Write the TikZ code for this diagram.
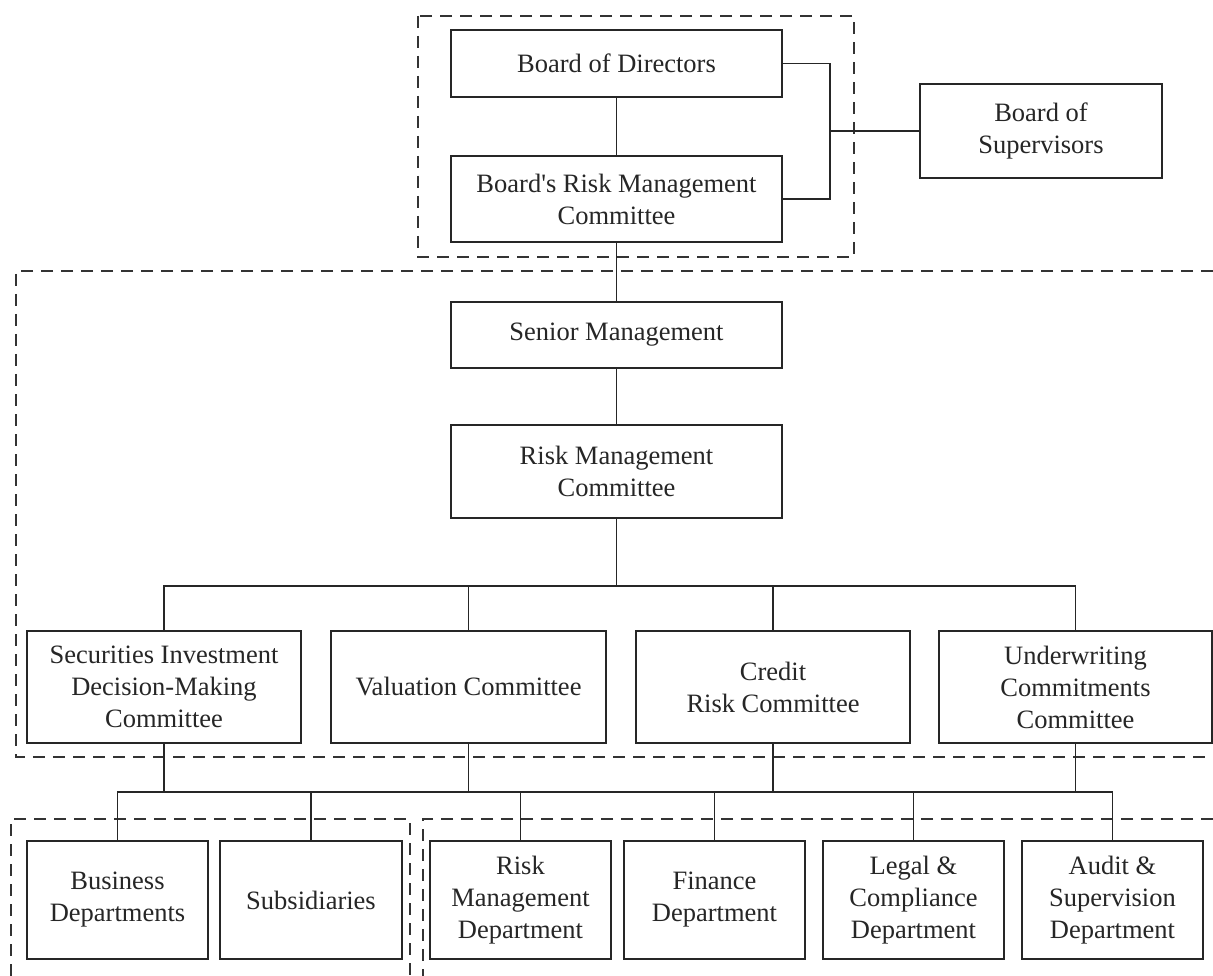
\documentclass[tikz,border=0pt]{standalone}
\usepackage{fontspec}
\setmainfont{Liberation Serif}[Ligatures=TeXOff]
\begin{document}
\begin{tikzpicture}[x=1pt,y=-1pt,
  ln/.style={line width=1.9pt,draw=black!85},
  box/.style={ln,rectangle,inner sep=0pt,align=center,
    font=\fontsize{26.5}{32}\selectfont,text=black!85},
  dbox/.style={line width=1.8pt,draw=black!80,dash pattern=on 12pt off 8pt}]
\path[fill=white,use as bounding box] (0,0) rectangle (1213,976);
% dashed groups
\draw[dbox] (418,16) rectangle (854,257);
\draw[dbox] (1213,271) -- (16,271) -- (16,757) -- (1213,757);
\draw[dbox] (11,976) -- (11,819) -- (410,819) -- (410,976);
\draw[dbox] (1213,819) -- (423,819) -- (423,976);
% nodes
\node[box,minimum width=331pt,minimum height=67pt] (bod) at (616.5,63.5) {Board of Directors};
\node[box,minimum width=331pt,minimum height=86pt] (brmc) at (616.5,199) {Board's Risk Management\\Committee};
\node[box,minimum width=242pt,minimum height=94pt] (bos) at (1041,131) {Board of\\Supervisors};
\node[box,minimum width=331pt,minimum height=66pt] (sm) at (616.5,335) {Senior Management};
\node[box,minimum width=331pt,minimum height=93pt] (rmc) at (616.5,471.5) {Risk Management\\Committee};
\node[box,minimum width=274pt,minimum height=112pt] (sidmc) at (164,687) {Securities Investment\\Decision-Making\\Committee};
\node[box,minimum width=275pt,minimum height=112pt] (val) at (468.5,687) {Valuation Committee};
\node[box,minimum width=274pt,minimum height=112pt] (crc) at (773,687) {Credit\\Risk Committee};
\node[box,minimum width=273pt,minimum height=112pt] (uwc) at (1075.5,687) {Underwriting\\Commitments\\Committee};
\node[box,minimum width=181pt,minimum height=118pt] (bd) at (117.5,900) {Business\\Departments};
\node[box,minimum width=182pt,minimum height=118pt] (sub) at (311,900) {Subsidiaries};
\node[box,minimum width=181pt,minimum height=118pt] (rmd) at (520.5,900) {Risk\\Management\\Department};
\node[box,minimum width=181pt,minimum height=118pt] (fin) at (714.5,900) {Finance\\Department};
\node[box,minimum width=181pt,minimum height=118pt] (leg) at (913.5,900) {Legal \&\\Compliance\\Department};
\node[box,minimum width=181pt,minimum height=118pt] (aud) at (1112.5,900) {Audit \&\\Supervision\\Department};
% connectors
\coordinate (j) at (830,131);
\coordinate (b1) at (616.5,586);
\coordinate (b2) at (616.5,792);
\draw[ln] (bod) -- (brmc);
\draw[ln] (brmc) -- (sm);
\draw[ln] (sm) -- (rmc);
\draw[ln] (bod.east) -| (j) |- (brmc.east);
\draw[ln] (j) -- (bos.west);
\draw[ln] (rmc.south) -- (b1);
\draw[ln] (sidmc.north) |- (b1) -| (uwc.north);
\draw[ln] (val.north) -- (val.north |- b1);
\draw[ln] (crc.north) -- (crc.north |- b1);
\draw[ln] (bd.north) |- (b2) -| (aud.north);
\foreach \n in {sub,rmd,fin,leg} \draw[ln] (\n.north) -- (\n.north |- b2);
\foreach \n in {sidmc,val,crc,uwc} \draw[ln] (\n.south) -- (\n.south |- b2);
\end{tikzpicture}
\end{document}
